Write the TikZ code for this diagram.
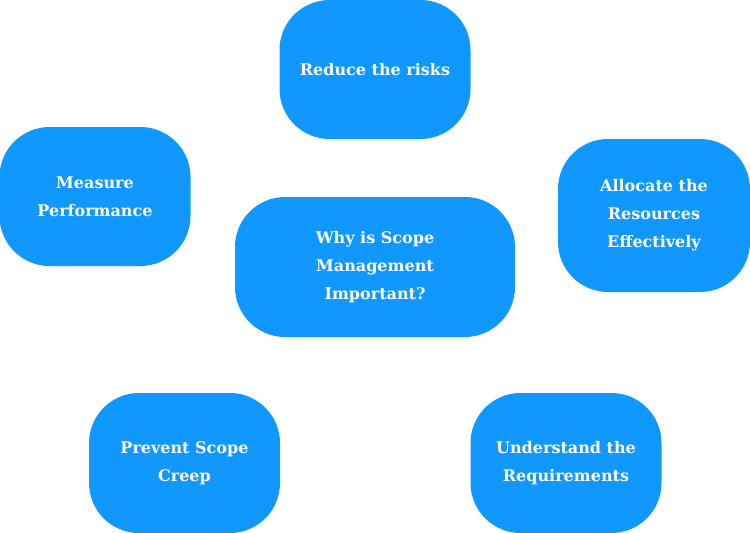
\documentclass[tikz,border=0pt]{standalone}
\usepackage{fontspec}
\setmainfont{DejaVu Serif}
\usetikzlibrary{positioning}
\definecolor{scopeblue}{RGB}{16,152,255}

\begin{document}
\begin{tikzpicture}[x=1pt, y=-1pt,
	reason/.style={fill=scopeblue, rounded corners=50pt, text=white,
		minimum width=191pt, minimum height=140pt, align=center,
		font=\fontsize{16}{28}\selectfont\bfseries, inner sep=0pt}]

	\useasboundingbox (0,0) rectangle (750,533);

	% centre question
	\node[reason, minimum width=280pt] (why) at (375,267) {Why is Scope\\Management\\Important?};

	% reasons around it
	\node[reason, minimum height=139pt] (risks) at (375,69.5) {Reduce the risks};
	\node[reason, minimum height=139pt] (measure) at (95,196.5) {Measure\\Performance};
	\node[reason, minimum width=192pt, minimum height=153pt] (allocate) at (654,215.5) {Allocate the\\Resources\\Effectively};
	\node[reason] (creep) at (184.5,463) {Prevent Scope\\Creep};
	\node[reason] (require) at (566,463) {Understand the\\Requirements};

\end{tikzpicture}
\end{document}
